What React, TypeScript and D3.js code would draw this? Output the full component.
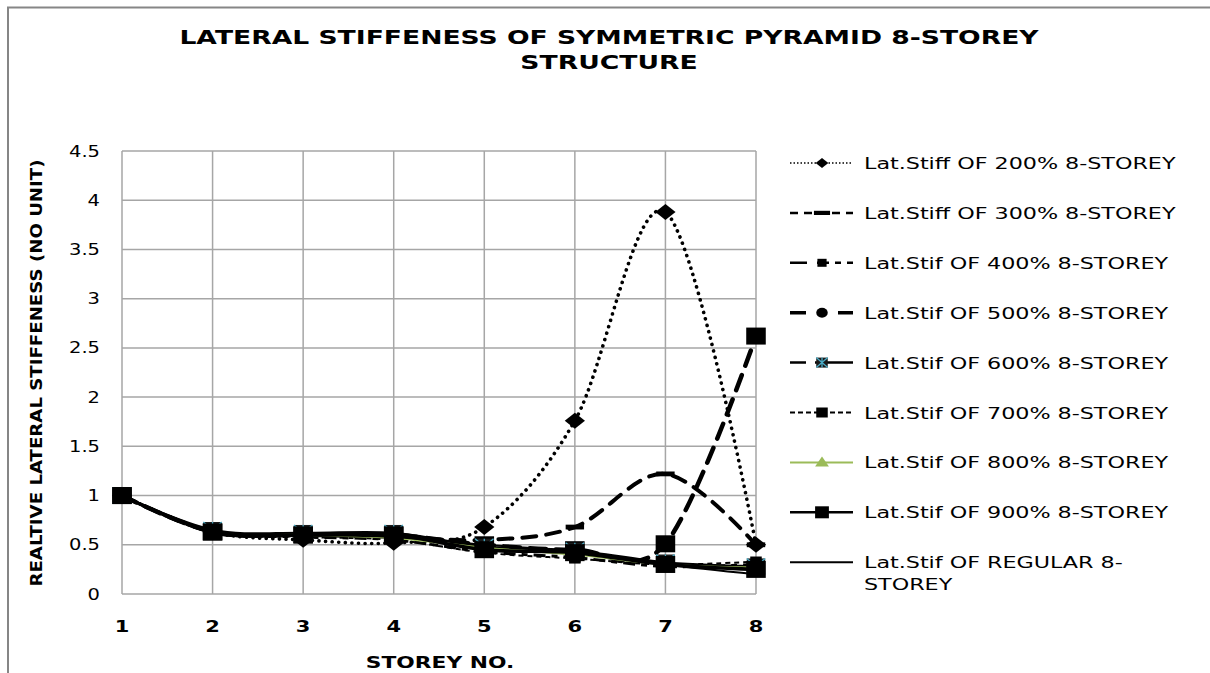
import React from "react";
import * as d3 from "d3";

const storeys = [1, 2, 3, 4, 5, 6, 7, 8];
const yTicks = [0, 0.5, 1, 1.5, 2, 2.5, 3, 3.5, 4, 4.5];

const s200 = [1.0, 0.63, 0.55, 0.52, 0.68, 1.76, 3.88, 0.5];
const s300 = [1.0, 0.63, 0.6, 0.58, 0.55, 0.68, 1.22, 0.5];
const s400 = [1.0, 0.63, 0.58, 0.55, 0.43, 0.37, 0.28, 0.3];
const s500 = [1.0, 0.63, 0.6, 0.6, 0.5, 0.45, 0.51, 2.62];
const s600 = [1.0, 0.65, 0.62, 0.62, 0.48, 0.44, 0.32, 0.28];
const s700 = [1.0, 0.63, 0.58, 0.55, 0.42, 0.36, 0.3, 0.33];
const s800 = [1.0, 0.63, 0.6, 0.57, 0.47, 0.4, 0.3, 0.27];
const s900 = [1.0, 0.63, 0.6, 0.6, 0.45, 0.42, 0.3, 0.25];
const sReg = [1.0, 0.63, 0.6, 0.58, 0.5, 0.43, 0.3, 0.2];

const labels = [
  "Lat.Stiff OF 200% 8-STOREY",
  "Lat.Stiff OF 300% 8-STOREY",
  "Lat.Stif OF 400% 8-STOREY",
  "Lat.Stif OF 500% 8-STOREY",
  "Lat.Stif OF 600% 8-STOREY",
  "Lat.Stif OF 700% 8-STOREY",
  "Lat.Stif OF 800% 8-STOREY",
  "Lat.Stif OF 900% 8-STOREY",
  "Lat.Stif OF REGULAR 8-|STOREY",
];

type Style = {
  color: string;
  width: number;
  dash: string | null;
  legendDash: string | null;
  legendWidth: number;
  cap: string;
  marker: string;
  plotMarker: string;
  size: number;
  legendSize: number;
};

const styles: Style[] = [
  { color: "#000", width: 3.6, dash: "0.1,6.5", legendDash: "1.5,2", legendWidth: 1.5, cap: "round", marker: "diamond", plotMarker: "diamond", size: 8, legendSize: 5 },
  { color: "#000", width: 4, dash: "14,10", legendDash: "8,6", legendWidth: 2.5, cap: "round", marker: "dash", plotMarker: "dash", size: 8, legendSize: 7 },
  { color: "#000", width: 3, dash: "12,6,6,6", legendDash: "17,10,12,6,6,6,12", legendWidth: 2.5, cap: "butt", marker: "square", plotMarker: "square", size: 5, legendSize: 4 },
  { color: "#000", width: 4.5, dash: "16,10", legendDash: "16,32", legendWidth: 3.5, cap: "round", marker: "circle", plotMarker: "square", size: 8.5, legendSize: 5 },
  { color: "#000", width: 2.5, dash: null, legendDash: "16,9,60,0", legendWidth: 2.5, cap: "butt", marker: "teal", plotMarker: "teal", size: 8, legendSize: 5 },
  { color: "#000", width: 2, dash: "5,4", legendDash: "5,3", legendWidth: 2, cap: "butt", marker: "square", plotMarker: "square", size: 5, legendSize: 5 },
  { color: "#9BBB59", width: 2, dash: null, legendDash: null, legendWidth: 2, cap: "butt", marker: "triangle", plotMarker: "triangle", size: 6, legendSize: 6 },
  { color: "#000", width: 3.5, dash: null, legendDash: null, legendWidth: 2.5, cap: "butt", marker: "square", plotMarker: "square", size: 8.5, legendSize: 6 },
  { color: "#000", width: 2, dash: null, legendDash: null, legendWidth: 2, cap: "butt", marker: "none", plotMarker: "none", size: 0, legendSize: 0 },
];

const seriesValues = [s200, s300, s400, s500, s600, s700, s800, s900, sReg];

const W = 1210;
const H = 673;
const plot = { left: 122, right: 756, top: 151, bottom: 594 };
const FONT = "'DejaVu Sans', Verdana, sans-serif";
const SX = 1.4;

function SText({
  x,
  y,
  sx = SX,
  anchor = "start",
  size = 15,
  bold = false,
  children,
}: {
  x: number;
  y: number;
  sx?: number;
  anchor?: string;
  size?: number;
  bold?: boolean;
  children: any;
}) {
  return (
    <text
      transform={`translate(${x},${y}) scale(${sx},1)`}
      textAnchor={anchor as any}
      fontFamily={FONT}
      fontWeight={bold ? "bold" : "normal"}
      fontSize={size}
      fill="#000"
    >
      {children}
    </text>
  );
}

function Marker({ type, x, y, s, color }: { type: string; x: number; y: number; s: number; color: string }) {
  if (type === "none") return null;
  const w = s * 1.15;
  if (type === "diamond")
    return <path d={`M${x},${y - s}L${x + w * 1.1},${y}L${x},${y + s}L${x - w * 1.1},${y}Z`} fill={color} />;
  if (type === "dash") return <rect x={x - w} y={y - s * 0.3} width={2 * w} height={s * 0.6} fill={color} />;
  if (type === "square") return <rect x={x - w} y={y - s} width={2 * w} height={2 * s} fill={color} />;
  if (type === "circle") return <ellipse cx={x} cy={y} rx={w} ry={s} fill={color} />;
  if (type === "triangle")
    return <path d={`M${x},${y - s}L${x + w},${y + s * 0.7}L${x - w},${y + s * 0.7}Z`} fill={color} />;
  if (type === "teal")
    return (
      <g>
        <rect x={x - w} y={y - s} width={2 * w} height={2 * s} fill="#1a1a1a" />
        <path
          d={`M${x - w},${y - s}L${x + w},${y + s}M${x + w},${y - s}L${x - w},${y + s}M${x},${y - s}L${x},${y + s}`}
          stroke="#4BACC6"
          strokeWidth={1.3}
        />
      </g>
    );
  return null;
}

export default function App() {
  const x = d3.scaleLinear().domain([1, 8]).range([plot.left, plot.right]);
  const y = d3.scaleLinear().domain([0, 4.5]).range([plot.bottom, plot.top]);
  const line = d3
    .line<number>()
    .x((_, i) => x(storeys[i]))
    .y((d) => y(d))
    .curve(d3.curveCardinal.tension(0));

  const legendX0 = 790;
  const legendX1 = 853;
  const legendMid = 822;
  const legendTextX = 864;
  const legendY = (i: number) => 163 + i * 49.9;

  return (
    <svg width={W} height={H} style={{ position: "absolute", left: 0, top: 0, background: "#fff" }}>
      <rect x={0} y={0} width={W} height={H} fill="#fff" />
      {/* outer frame */}
      <path d={`M8,${H}L8,7.5L${W},7.5`} fill="none" stroke="#868686" strokeWidth={2} />

      {/* title */}
      <SText x={609} y={44} anchor="middle" size={19} bold>
        LATERAL STIFFENESS OF SYMMETRIC PYRAMID 8-STOREY
      </SText>
      <SText x={609} y={69} anchor="middle" size={19} bold>
        STRUCTURE
      </SText>

      {/* gridlines */}
      {yTicks.map((t) => (
        <line key={"h" + t} x1={plot.left} x2={plot.right} y1={y(t)} y2={y(t)} stroke="#a6a6a6" strokeWidth={1.5} />
      ))}
      {storeys.map((s) => (
        <line key={"v" + s} x1={x(s)} x2={x(s)} y1={plot.top} y2={plot.bottom} stroke="#a6a6a6" strokeWidth={1.5} />
      ))}

      {/* y tick labels */}
      {yTicks.map((t) => (
        <SText key={"yl" + t} x={100} y={y(t) + 5.5} anchor="end" size={15} sx={1.3}>
          {String(t)}
        </SText>
      ))}
      {/* x tick labels */}
      {storeys.map((s) => (
        <SText key={"xl" + s} x={x(s)} y={632} anchor="middle" size={15} bold>
          {s}
        </SText>
      ))}

      <SText x={440} y={668} anchor="middle" size={15} bold sx={1.45}>
        STOREY NO.
      </SText>
      <text
        transform={`translate(42,${373}) rotate(-90)`}
        textAnchor="middle"
        fontFamily={FONT}
        fontWeight="bold"
        fontSize={16}
        textLength={427}
        lengthAdjust="spacingAndGlyphs"
      >
        REALTIVE LATERAL STIFFENESS (NO UNIT)
      </text>

      {/* series */}
      {seriesValues.map((vals, si) => {
        const st = styles[si];
        return (
          <path
            key={"s" + si}
            d={line(vals) || ""}
            fill="none"
            stroke={st.color}
            strokeWidth={st.width}
            strokeDasharray={st.dash || undefined}
            strokeLinecap={st.cap as any}
          />
        );
      })}
      {seriesValues.map((vals, si) => {
        const st = styles[si];
        return (
          <g key={"m" + si}>
            {vals.map((v, i) => (
              <Marker key={i} type={st.plotMarker} x={x(storeys[i])} y={y(v)} s={st.size} color={st.color} />
            ))}
          </g>
        );
      })}

      {/* legend */}
      {labels.map((lab, i) => {
        const st = styles[i];
        const ly = legendY(i);
        const parts = lab.split("|");
        return (
          <g key={"lg" + i}>
            <line
              x1={legendX0}
              x2={legendX1}
              y1={ly}
              y2={ly}
              stroke={st.color}
              strokeWidth={st.legendWidth}
              strokeDasharray={st.legendDash || undefined}
            />
            <Marker type={st.marker} x={legendMid} y={ly} s={st.legendSize} color={st.color} />
            <SText x={legendTextX} y={ly + 6} size={16} sx={1.39}>
              {parts[0]}
            </SText>
            {parts[1] && (
              <SText x={legendTextX} y={ly + 28} size={16} sx={1.39}>
                {parts[1]}
              </SText>
            )}
          </g>
        );
      })}
    </svg>
  );
}
